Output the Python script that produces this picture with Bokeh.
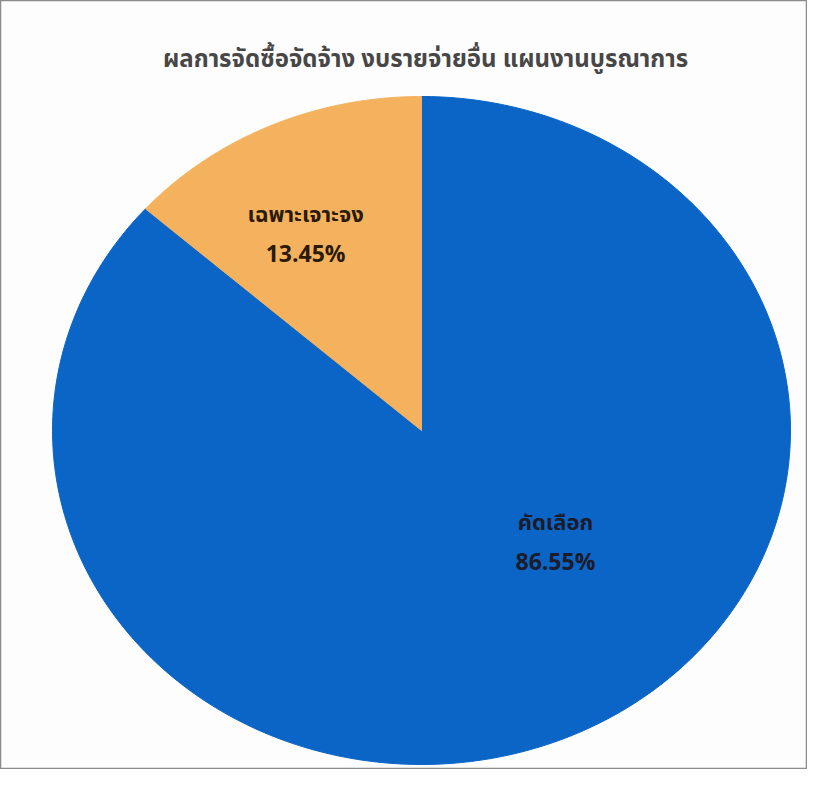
import numpy as np
from bokeh.plotting import figure
from bokeh.models import Range1d, ColumnDataSource
from bokeh.core.properties import value
from bokeh.embed import file_html
from bokeh.resources import INLINE

# ---- data ----
title_text = "ผลการจัดซื้อจัดจ้าง งบรายจ่ายอื่น แผนงานบูรณาการ"
categories = ["คัดเลือก", "เฉพาะเจาะจง"]
percents = [86.55, 13.45]
colors = ["#0B65C6", "#F4B25E"]
label_colors = ["#1B1B2A", "#2B1A08"]

# ---- style / layout ----
W, H = 807, 769
rx, ry = 369.0, 334.0        # pixel radii of the (slightly stretched) pie
cx, cy = 421.0, 339.0        # pie centre in frame pixels (from left, from bottom)
# label positions in unit-pie coordinates (style)
label_pos = [(0.363, -0.338), (-0.314, 0.584)]
line_gap = 0.12

p = figure(width=W, height=H, output_backend="svg", toolbar_location=None,
           x_range=Range1d(-cx / rx, (W - cx) / rx),
           y_range=Range1d(-cy / ry, (H - cy) / ry),
           min_border=0)
p.axis.visible = False
p.grid.visible = False
p.outline_line_color = "#8c8c8c"
p.outline_line_width = 1.5
p.background_fill_color = "#fdfdfd"
p.border_fill_color = "#fdfdfd"

# slices: start at 12 o'clock, go clockwise
fr = np.array(percents) / sum(percents)
ends = np.cumsum(fr)
starts = ends - fr
xs, ys = [], []
for s, e in zip(starts, ends):
    t = np.linspace(s, e, 200)
    ang = np.pi / 2 - 2 * np.pi * t
    xs.append([0.0] + list(np.cos(ang)) + [0.0])
    ys.append([0.0] + list(np.sin(ang)) + [0.0])
src = ColumnDataSource(dict(xs=xs, ys=ys, color=colors))
p.patches("xs", "ys", fill_color="color", line_color="color", line_width=1, source=src)

font = value("Tahoma, 'Noto Sans Thai', 'Leelawadee UI', sans-serif")
lx = [pos[0] for pos in label_pos]
ly = [pos[1] for pos in label_pos]
p.text(x=lx, y=[v + line_gap / 2 for v in ly], text=categories,
       text_align="center", text_baseline="middle", text_font=font,
       text_font_style="bold", text_font_size="22px", text_color=label_colors)
p.text(x=lx, y=[v - line_gap / 2 for v in ly], text=[f"{v:.2f}%" for v in percents],
       text_align="center", text_baseline="middle", text_font=font,
       text_font_style="bold", text_font_size="23px", text_color=label_colors)

# title
p.text(x=[0.011], y=[1.108], text=[title_text],
       text_align="center", text_baseline="middle", text_font=font,
       text_font_style="bold", text_font_size="24px", text_color="#474747")

open("out.html", "w").write(file_html(p, INLINE))
